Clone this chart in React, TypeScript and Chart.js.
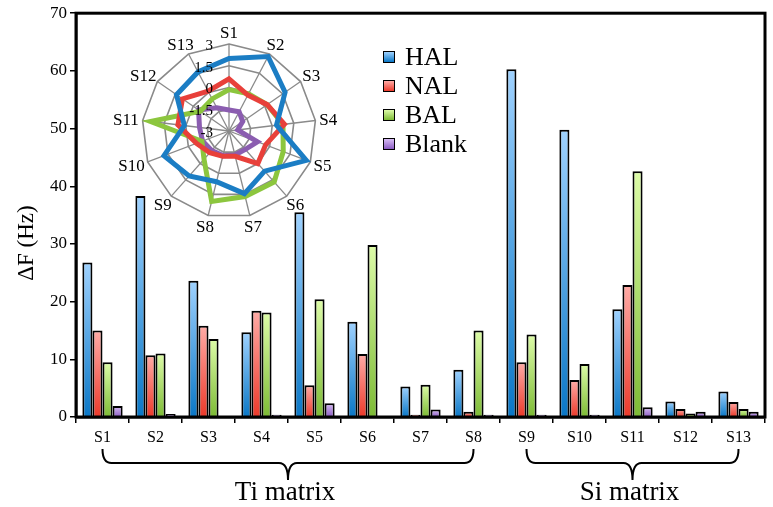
import React, { useEffect, useRef } from 'react';
import { Chart, registerables } from 'chart.js';

Chart.register(...registerables);

const FONT = "'Liberation Serif', 'Times New Roman', serif";

const categories = ['S1', 'S2', 'S3', 'S4', 'S5', 'S6', 'S7', 'S8', 'S9', 'S10', 'S11', 'S12', 'S13'];
const seriesNames = ['HAL', 'NAL', 'BAL', 'Blank'];

const halValues = [26.8, 38.3, 23.6, 14.7, 35.5, 16.5, 5.3, 8.2, 60.3, 49.8, 18.7, 2.7, 4.4];
const nalValues = [15.0, 10.7, 15.8, 18.4, 5.5, 10.9, 0.4, 0.9, 9.5, 6.4, 22.9, 1.4, 2.6];
const balValues = [9.5, 11.0, 13.5, 18.1, 20.4, 29.8, 5.6, 15.0, 14.3, 9.2, 42.6, 0.6, 1.4];
const blankValues = [1.9, 0.5, 0.0, 0.4, 2.4, 0.0, 1.3, 0.4, 0.4, 0.4, 1.7, 0.9, 0.9];

const yTickValues = [0, 10, 20, 30, 40, 50, 60, 70];
const yTitle = 'ΔF (Hz)';

const groupNames = ['Ti matrix', 'Si matrix'];
const groupRanges = [[0, 7], [8, 12]];

// radar inset values
const radarTicks = [3, 1.5, 0, -1.5, -3];
const radarHal = [2.0, 2.8, 1.7, 0.3, 2.7, 0.7, 1.45, 0.6, 1.15, 1.8, 0.1, 1.4, 1.6];
const radarNal = [0.6, -0.2, 0.2, 0.85, -0.3, 0.0, -1.2, -1.2, -1.0, -0.6, 0.55, 0.9, 0.1];
const radarBal = [-0.15, -0.1, 0.2, 0.75, 1.0, 1.7, 1.65, 2.0, -0.4, -1.0, 2.45, -0.6, -0.5];
const radarBlank = [-1.55, -1.5, -1.85, -2.4, -0.9, -1.3, -1.3, -1.25, -1.2, -1.05, -0.95, -0.45, -1.2];

const gradTop = ['#9fd2ff', '#ffaba6', '#ddfca8', '#d8bdf6'];
const gradBottom = ['#0a77c6', '#ec3a2b', '#7dbb35', '#8b5cc2'];
const lineColors = ['#1b7dc4', '#e8403a', '#8cc63e', '#8b5db0'];

const barGradient = (i: number) => (ctx: any) => {
  const chart = ctx.chart;
  const y = chart.scales && chart.scales.y;
  if (!y || ctx.type !== 'data') return gradBottom[i];
  const y0 = y.getPixelForValue(0);
  const y1 = y.getPixelForValue(ctx.raw);
  if (!isFinite(y0) || !isFinite(y1) || Math.abs(y0 - y1) < 0.5) return gradBottom[i];
  const g = chart.ctx.createLinearGradient(0, y1, 0, y0);
  g.addColorStop(0, gradTop[i]);
  g.addColorStop(1, gradBottom[i]);
  return g;
};

const framePlugin = {
  id: 'frameAndBraces',
  afterDraw(chart: any) {
    const { ctx, chartArea, scales } = chart;
    ctx.save();
    ctx.strokeStyle = '#000';
    ctx.lineWidth = 3;
    ctx.strokeRect(chartArea.left, chartArea.top, chartArea.right - chartArea.left, chartArea.bottom - chartArea.top);
    // y title
    ctx.save();
    ctx.translate(27, 243);
    ctx.rotate(-Math.PI / 2);
    ctx.fillStyle = '#000';
    ctx.font = `23px ${FONT}`;
    ctx.textAlign = 'center';
    ctx.textBaseline = 'middle';
    ctx.fillText(yTitle, 0, 0);
    ctx.restore();
    // braces
    const x = scales.x;
    const yTop = 449, yMid = 463, yBot = 480, r = 9;
    ctx.lineWidth = 2;
    groupRanges.forEach((rg, gi) => {
      const x1 = x.getPixelForValue(rg[0]);
      const x2 = x.getPixelForValue(rg[1]);
      const xm = (x1 + x2) / 2;
      ctx.beginPath();
      ctx.moveTo(x1, yTop);
      ctx.quadraticCurveTo(x1, yMid, x1 + r, yMid);
      ctx.lineTo(xm - r, yMid);
      ctx.quadraticCurveTo(xm, yMid, xm, yBot);
      ctx.quadraticCurveTo(xm, yMid, xm + r, yMid);
      ctx.lineTo(x2 - r, yMid);
      ctx.quadraticCurveTo(x2, yMid, x2, yTop);
      ctx.stroke();
      ctx.fillStyle = '#000';
      ctx.font = `27px ${FONT}`;
      ctx.textAlign = 'center';
      ctx.textBaseline = 'middle';
      ctx.fillText(groupNames[gi], xm - 3, 493);
    });
    ctx.restore();
  },
};

const radarLabelPlugin = {
  id: 'radarLabels',
  afterDraw(chart: any) {
    const { ctx } = chart;
    const s = chart.scales.r;
    const R = s.drawingArea;
    ctx.save();
    ctx.fillStyle = '#000';
    ctx.font = `17px ${FONT}`;
    ctx.textAlign = 'center';
    ctx.textBaseline = 'middle';
    categories.forEach((lab, i) => {
      const p = s.getPointPosition(i, R + 3);
      const w = ctx.measureText(lab).width;
      const a = p.angle;
      ctx.fillText(lab, p.x + Math.cos(a) * (w / 2 + 1), p.y + Math.sin(a) * 8 + 1);
    });
    ctx.font = `15px ${FONT}`;
    ctx.textAlign = 'right';
    radarTicks.forEach((v) => {
      const d = s.getDistanceFromCenterForValue(v);
      ctx.fillText(String(v), s.xCenter - 16, s.yCenter - d + 2);
    });
    ctx.restore();
  },
};

export default function App() {
  const barRef = useRef<HTMLCanvasElement>(null);
  const radarRef = useRef<HTMLCanvasElement>(null);

  useEffect(() => {
    Chart.defaults.font.family = FONT;
    Chart.defaults.color = '#000';
    const values = [halValues, nalValues, balValues, blankValues];
    const bar = new Chart(barRef.current!, {
      type: 'bar',
      data: {
        labels: categories,
        datasets: seriesNames.map((name, i) => ({
          label: name,
          data: values[i],
          backgroundColor: barGradient(i),
          borderColor: '#000',
          borderWidth: 2,
          barPercentage: 1,
          categoryPercentage: 0.76,
        })),
      },
      options: {
        responsive: false,
        animation: false,
        layout: { padding: { top: 13, right: 8, left: 0, bottom: 0 } },
        plugins: { legend: { display: false }, tooltip: { enabled: false } },
        scales: {
          x: {
            grid: { offset: true, drawOnChartArea: false, tickLength: 6, color: '#000', lineWidth: 1.5 },
            border: { color: '#000', width: 2.5 },
            ticks: { font: { size: 16 }, color: '#000', padding: 5 },
            afterFit: (sc: any) => { sc.height = 90; },
          },
          y: {
            min: 0,
            max: 70,
            afterBuildTicks: (sc: any) => { sc.ticks = yTickValues.map((v) => ({ value: v })); },
            grid: { drawOnChartArea: false, tickLength: 6, color: '#000', lineWidth: 1.5 },
            border: { color: '#000', width: 2.5 },
            ticks: { font: { size: 17 }, color: '#000', padding: 3 },
            afterFit: (sc: any) => { sc.width = 76; },
          },
        },
      },
      plugins: [framePlugin],
    });

    const rvals = [radarHal, radarNal, radarBal, radarBlank];
    const radar = new Chart(radarRef.current!, {
      type: 'radar',
      data: {
        labels: categories,
        datasets: seriesNames.map((name, i) => ({
          label: name,
          data: rvals[i],
          borderColor: lineColors[i],
          backgroundColor: 'rgba(0,0,0,0)',
          borderWidth: 5,
          fill: false,
          pointRadius: 0,
          tension: 0,
        })),
      },
      options: {
        responsive: false,
        animation: false,
        layout: { padding: 28 },
        plugins: { legend: { display: false }, tooltip: { enabled: false } },
        scales: {
          r: {
            min: -3,
            max: 3,
            ticks: { display: false, stepSize: 1.5 },
            grid: { color: '#8a8a8a', lineWidth: 1.6, circular: false },
            angleLines: { color: '#8a8a8a', lineWidth: 1.3 },
            pointLabels: { display: false },
          },
        },
      },
      plugins: [radarLabelPlugin],
    });

    return () => {
      bar.destroy();
      radar.destroy();
    };
  }, []);

  return (
    <div style={{ position: 'fixed', left: 0, top: 0, width: 773, height: 507, background: '#fff' }}>
      <canvas ref={barRef} width={773} height={507} style={{ position: 'absolute', left: 0, top: 0 }} />
      <canvas ref={radarRef} width={230} height={230} style={{ position: 'absolute', left: 114, top: 16 }} />
      <div style={{ position: 'absolute', left: 383, top: 42, fontFamily: FONT, fontSize: 26, color: '#000' }}>
        {seriesNames.map((name, i) => (
          <div key={name} style={{ height: 29, display: 'flex', alignItems: 'center' }}>
            <div
              style={{
                width: 10,
                height: 10,
                border: '1px solid #000',
                background: `linear-gradient(${gradTop[i]}, ${gradBottom[i]})`,
                marginRight: 10,
              }}
            />
            <span style={{ lineHeight: '29px' }}>{name}</span>
          </div>
        ))}
      </div>
    </div>
  );
}
